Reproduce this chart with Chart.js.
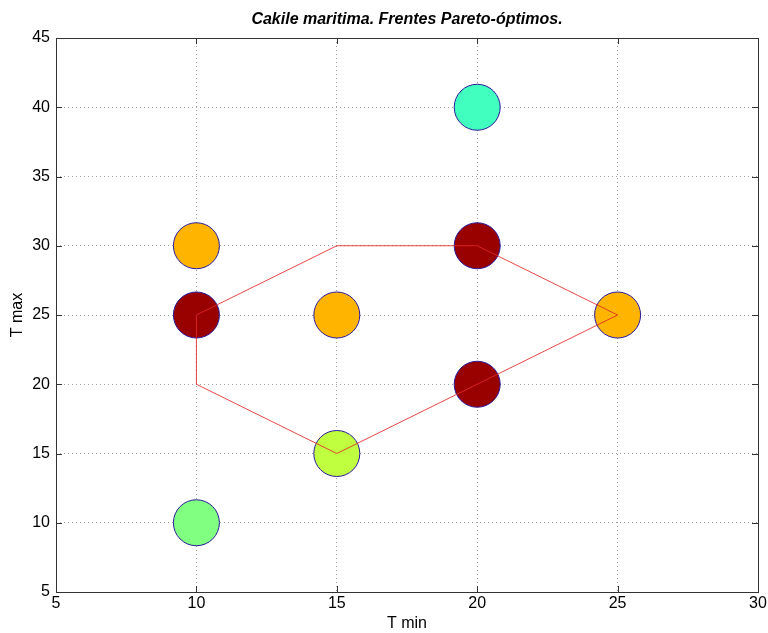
<!DOCTYPE html>
<html>
<head>
<meta charset="utf-8">
<script src="https://cdn.jsdelivr.net/npm/chart.js@4.4.1/dist/chart.umd.min.js"></script>
<style>
  html, body { margin: 0; padding: 0; background: #fff; }
  #wrap { width: 768px; height: 633px; }
</style>
</head>
<body>
<div id="wrap"><canvas id="paretoChart"></canvas></div>
<script>
// puntos (T min, T max)
const tMin = [10, 10, 15, 20, 20, 25, 20, 15, 10];
const tMax = [30, 25, 25, 40, 30, 25, 20, 15, 10];
const pointColors = ['#ffb400', '#990000', '#ffb400', '#40ffbf', '#990000', '#ffb400', '#990000', '#bfff40', '#80ff80'];

// frente Pareto (linea roja)
const frontX = [10, 15, 20, 25, 20, 15, 10, 10];
const frontY = [25, 30, 30, 25, 20, 15, 20, 25];

const xTicks = [5, 10, 15, 20, 25, 30];
const yTicks = [5, 10, 15, 20, 25, 30, 35, 40, 45];

const chartTitle = 'Cakile maritima. Frentes Pareto-óptimos.';

const tickFont = { family: 'Arial, "Liberation Sans", sans-serif', size: 16 };

// marcas de eje hacia dentro + caja + titulo centrado sobre los ejes
const matlabAxes = {
    id: 'matlabAxes',
    beforeDatasetsDraw(chart) {
        const { ctx, chartArea: a, scales } = chart;
        const len = 6;
        ctx.save();
        ctx.strokeStyle = '#333';
        ctx.lineWidth = 1;
        ctx.beginPath();
        xTicks.forEach(v => {
            const px = Math.round(scales.x.getPixelForValue(v)) + 0.5;
            ctx.moveTo(px, a.bottom); ctx.lineTo(px, a.bottom - len);
            ctx.moveTo(px, a.top); ctx.lineTo(px, a.top + len);
        });
        yTicks.forEach(v => {
            const py = Math.round(scales.y.getPixelForValue(v)) + 0.5;
            ctx.moveTo(a.left, py); ctx.lineTo(a.left + len, py);
            ctx.moveTo(a.right, py); ctx.lineTo(a.right - len, py);
        });
        ctx.stroke();
        ctx.strokeRect(a.left + 0.5, a.top + 0.5, a.right - a.left, a.bottom - a.top);

        ctx.fillStyle = '#000';
        ctx.font = 'italic bold 16px Arial, "Liberation Sans", sans-serif';
        ctx.textAlign = 'center';
        ctx.textBaseline = 'middle';
        ctx.fillText(chartTitle, (a.left + a.right) / 2, 20);
        ctx.restore();
    }
};

new Chart(document.getElementById('paretoChart'), {
    type: 'scatter',
    data: {
        datasets: [
            {
                type: 'line',
                data: frontX.map((x, i) => ({ x: x, y: frontY[i] })),
                borderColor: 'rgba(228, 40, 40, 0.85)',
                borderWidth: 1,
                pointRadius: 0,
                fill: false,
                tension: 0
            },
            {
                data: tMin.map((x, i) => ({ x: x, y: tMax[i] })),
                backgroundColor: pointColors,
                borderColor: '#2a1a9a',
                borderWidth: 1,
                pointRadius: 23,
                pointHoverRadius: 23
            }
        ]
    },
    options: {
        responsive: true,
        maintainAspectRatio: false,
        animation: false,
        layout: { autoPadding: false, padding: { left: 0, right: 10, top: 38, bottom: 0 } },
        plugins: {
            legend: { display: false },
            tooltip: { enabled: false },
            title: { display: false }
        },
        scales: {
            x: {
                type: 'linear',
                min: 5,
                max: 30,
                afterBuildTicks: s => { s.ticks = xTicks.map(v => ({ value: v })); },
                afterFit: s => { s.height = 41; s.paddingLeft = 0; s.paddingRight = 0; },
                grid: { color: '#a0a0a0', lineWidth: 1, drawTicks: false },
                border: { display: false, dash: [1, 3] },
                ticks: { color: '#000', font: tickFont, padding: 2, maxRotation: 0 },
                title: { display: true, text: 'T min', color: '#000', font: tickFont, padding: { top: 0, bottom: 0 } }
            },
            y: {
                type: 'linear',
                min: 5,
                max: 45,
                afterBuildTicks: s => { s.ticks = yTicks.map(v => ({ value: v })); },
                afterFit: s => { s.width = 56; s.paddingTop = 0; s.paddingBottom = 0; },
                grid: { color: '#a0a0a0', lineWidth: 1, drawTicks: false },
                border: { display: false, dash: [1, 3] },
                ticks: { color: '#000', font: tickFont, padding: 6 },
                title: { display: true, text: 'T max', color: '#000', font: tickFont, padding: { top: 8, bottom: 0 } }
            }
        }
    },
    plugins: [matlabAxes]
});
</script>
</body>
</html>
